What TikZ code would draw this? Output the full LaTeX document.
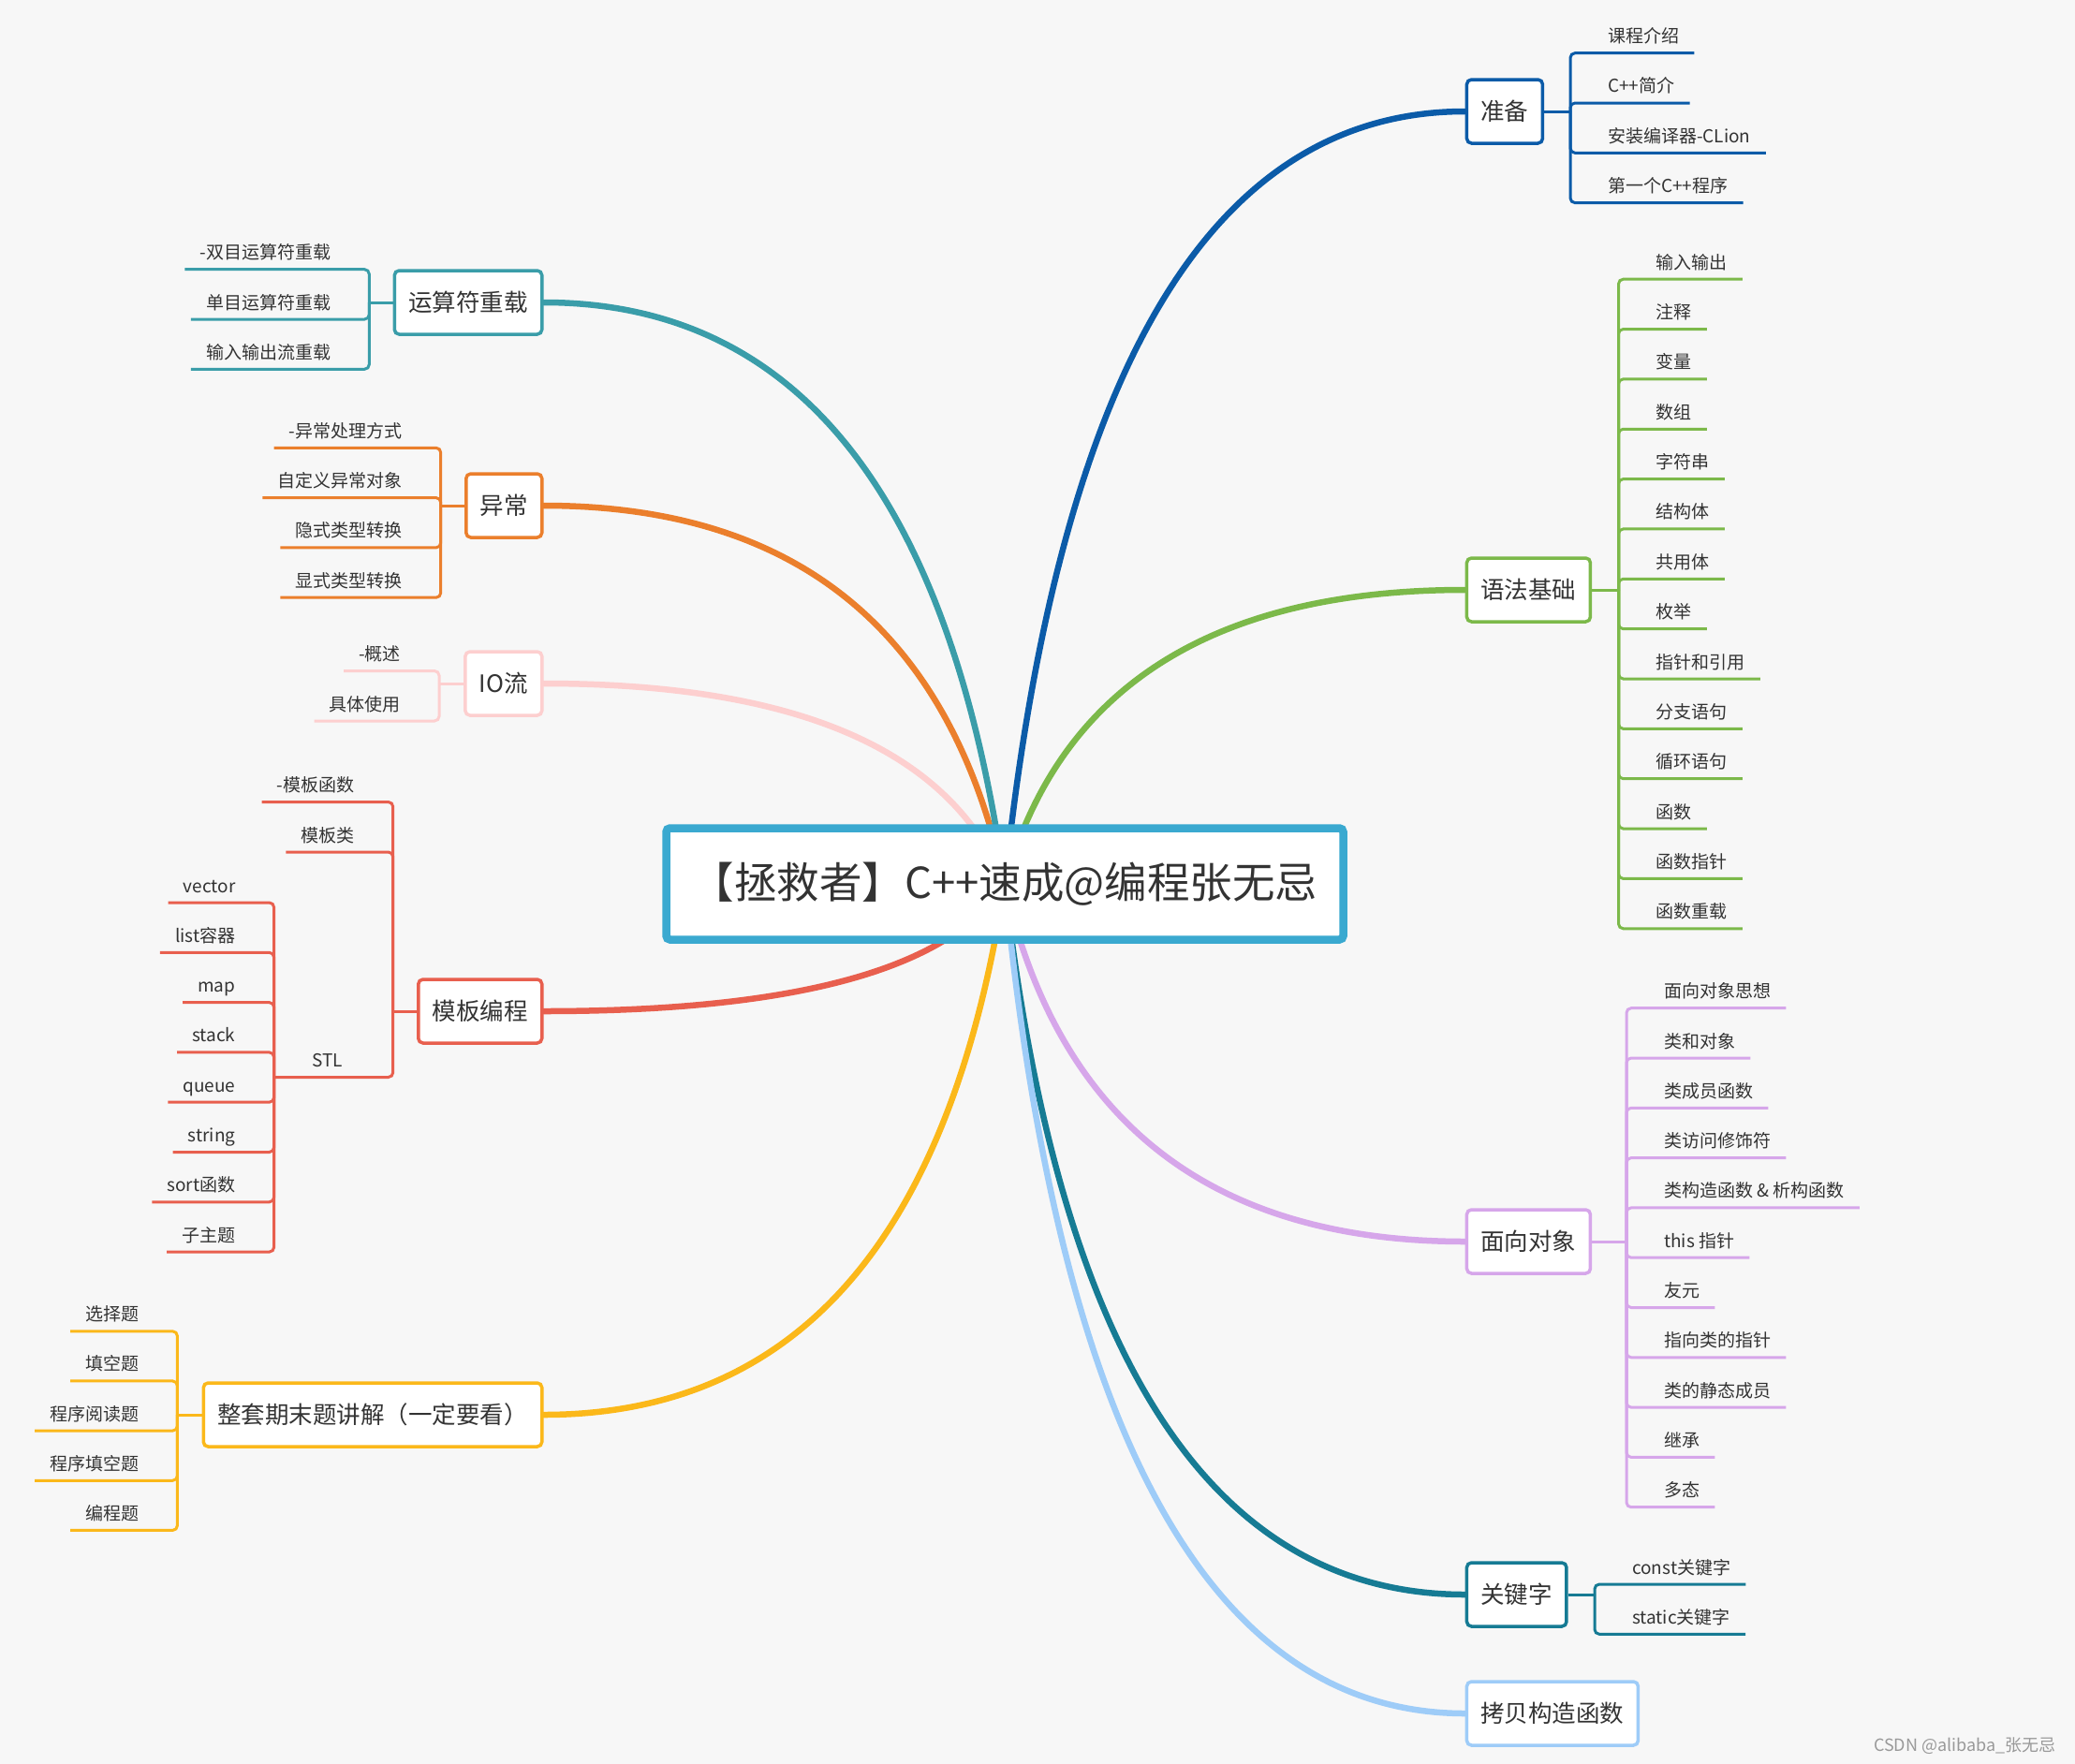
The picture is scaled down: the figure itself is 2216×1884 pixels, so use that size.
\documentclass[tikz,border=0pt]{standalone}
\usepackage{fontspec}
\setmainfont{Noto Sans CJK SC}
\usetikzlibrary{calc,backgrounds}
\definecolor{paper}{HTML}{F7F7F7}
\definecolor{txt}{HTML}{333333}
\definecolor{ctr}{HTML}{3AA9D0}
\definecolor{zbc}{HTML}{0B5BA8}
\definecolor{yfc}{HTML}{7CB94A}
\definecolor{mxc}{HTML}{D6A6EA}
\definecolor{gjc}{HTML}{167B94}
\definecolor{kbc}{HTML}{9ECCF8}
\definecolor{ysc}{HTML}{3A9DA9}
\definecolor{ycc}{HTML}{EB7F2C}
\definecolor{ioc}{HTML}{FDCFCF}
\definecolor{mbc}{HTML}{E85F4E}
\definecolor{qmc}{HTML}{FBB81A}
\newcommand{\leaffont}{\fontsize{19pt}{22pt}\selectfont}
\newcommand{\topicfont}{\fontsize{25.5pt}{30pt}\selectfont}
\newcommand{\titlefont}{\fontsize{45.5pt}{52pt}\selectfont}
\tikzset{
  topic/.style={draw=#1, fill=white, line width=3.5pt, rounded corners=5pt,
    minimum height=68pt, inner xsep=15pt, font=\topicfont, text=txt},
  leaf/.style={inner xsep=16pt, inner ysep=0pt, font=\leaffont, text=txt},
  leafR/.style={leaf, anchor=base west},
  leafL/.style={leaf, anchor=base east},
  sub/.style={draw=#1, line width=3pt, rounded corners=5pt},
  limb/.style={draw=#1, line width=6.5pt, line cap=round,
    to path={let \p1=(\tikztostart), \p2=(\tikztotarget) in
      .. controls ({\x1+0.117*(\x2-\x1)},{\y1+0.667*(\y2-\y1)})
      and ({\x2-0.55*(\x2-\x1)},\y2) .. (\tikztotarget)}},
}

\begin{document}
\begin{tikzpicture}[x=1pt, y=-1pt]
  \useasboundingbox (0,0) rectangle (2216,1884);
  % centre and first-level topics
  \node[draw=ctr, fill=white, line width=8.5pt, rounded corners=4pt,
    minimum width=723pt, minimum height=119pt, font=\titlefont, text=txt]
    (root) at (1073,944) {【拯救者】C++速成@编程张无忌};
  \node[topic=zbc, anchor=west] (zb) at (1564.7,119) {准备};
  \node[topic=yfc, anchor=west] (yf) at (1564.7,630) {语法基础};
  \node[topic=mxc, anchor=west] (mx) at (1564.7,1326) {面向对象};
  \node[topic=gjc, anchor=west] (gj) at (1564.7,1703) {关键字};
  \node[topic=kbc, anchor=west] (kb) at (1564.7,1830) {拷贝构造函数};
  \node[topic=ysc, anchor=east] (ys) at (580.5,323) {运算符重载};
  \node[topic=ycc, anchor=east] (yc) at (580.5,540) {异常};
  \node[topic=ioc, anchor=east] (io) at (580.5,730) {IO流};
  \node[topic=mbc, anchor=east] (mb) at (580.5,1080) {模板编程};
  \node[topic=qmc, anchor=east] (qm) at (580.5,1511) {整套期末题讲解（一定要看）};

  % main branches behind the boxes
  \begin{scope}[on background layer]
    \fill[paper] (0,0) rectangle (2216,1884);
    \draw[limb=zbc] (root.center) to (zb.west);
    \draw[limb=yfc] (root.center) to (yf.west);
    \draw[limb=mxc] (root.center) to (mx.west);
    \draw[limb=gjc] (root.center) to (gj.west);
    \draw[limb=kbc] (root.center) to (kb.west);
    \draw[limb=ioc] (root.center) to (io.east);
    \draw[limb=ycc] (root.center) to (yc.east);
    \draw[limb=ysc] (root.center) to (ys.east);
    \draw[limb=qmc] (root.center) to (qm.east);
    \draw[limb=mbc] (root.center) to (mb.east);
  \end{scope}

  % 准备
  \coordinate (zbj) at (1677,119);
  \draw[sub=zbc] (zb.east) -- (zbj);
  \foreach \t [count=\i from 0] in {课程介绍, C++简介, 安装编译器-CLion, 第一个C++程序} {
    \pgfmathsetmacro\yy{56.7+53.3*\i}
    \node[leafR] (zb\i) at (1701,\yy-11) {\t};
    \draw[sub=zbc] (zbj) |- (zb\i.east |- 0,\yy);
  }

  % 语法基础
  \coordinate (yfj) at (1728.5,630);
  \draw[sub=yfc] (yf.east) -- (yfj);
  \foreach \t [count=\i from 0] in {输入输出, 注释, 变量, 数组, 字符串, 结构体, 共用体,
      枚举, 指针和引用, 分支语句, 循环语句, 函数, 函数指针, 函数重载} {
    \pgfmathsetmacro\yy{298.2+53.35*\i}
    \node[leafR] (yf\i) at (1752.5,\yy-11) {\t};
    \draw[sub=yfc] (yfj) |- (yf\i.east |- 0,\yy);
  }

  % 面向对象
  \coordinate (mxj) at (1737,1326);
  \draw[sub=mxc] (mx.east) -- (mxj);
  \foreach \t [count=\i from 0] in {面向对象思想, 类和对象, 类成员函数, 类访问修饰符,
      类构造函数 \& 析构函数, this 指针, 友元, 指向类的指针, 类的静态成员, 继承, 多态} {
    \pgfmathsetmacro\yy{1076.7+53.3*\i}
    \node[leafR] (mx\i) at (1761,\yy-11) {\t};
    \draw[sub=mxc] (mxj) |- (mx\i.east |- 0,\yy);
  }

  % 关键字
  \coordinate (gjj) at (1703,1703);
  \draw[sub=gjc] (gj.east) -- (gjj);
  \foreach \t [count=\i from 0] in {const关键字, static关键字} {
    \pgfmathsetmacro\yy{1692+53.3*\i}
    \node[leafR] (gj\i) at (1727,\yy-11) {\t};
    \draw[sub=gjc] (gjj) |- (gj\i.east |- 0,\yy);
  }

  % 运算符重载
  \coordinate (ysj) at (394.3,323);
  \draw[sub=ysc] (ys.west) -- (ysj);
  \foreach \t [count=\i from 0] in {-双目运算符重载, 单目运算符重载, 输入输出流重载} {
    \pgfmathsetmacro\yy{287.7+53.3*\i}
    \node[leafL] (ys\i) at (369.3,\yy-11) {\t};
    \draw[sub=ysc] (ysj) |- (ys\i.west |- 0,\yy);
  }

  % 异常
  \coordinate (ycj) at (470.7,540);
  \draw[sub=ycc] (yc.west) -- (ycj);
  \foreach \t [count=\i from 0] in {-异常处理方式, 自定义异常对象, 隐式类型转换, 显式类型转换} {
    \pgfmathsetmacro\yy{478.3+53.3*\i}
    \node[leafL] (yc\i) at (445.7,\yy-11) {\t};
    \draw[sub=ycc] (ycj) |- (yc\i.west |- 0,\yy);
  }

  % IO流
  \coordinate (ioj) at (469,730);
  \draw[sub=ioc] (io.west) -- (ioj);
  \foreach \t [count=\i from 0] in {-概述, 具体使用} {
    \pgfmathsetmacro\yy{716.5+53.5*\i}
    \node[leafL] (io\i) at (444,\yy-11) {\t};
    \draw[sub=ioc] (ioj) |- (io\i.west |- 0,\yy);
  }

  % 模板编程
  \coordinate (mbj) at (419.7,1080);
  \draw[sub=mbc] (mb.west) -- (mbj);
  \foreach \t [count=\i from 0] in {-模板函数, 模板类} {
    \pgfmathsetmacro\yy{856.5+53.5*\i}
    \node[leafL] (mb\i) at (394.7,\yy-11) {\t};
    \draw[sub=mbc] (mbj) |- (mb\i.west |- 0,\yy);
  }
  \coordinate (stlj) at (292.6,1150.5);
  \node[leafL] (stl) at (382,1139.5) {STL};
  \draw[sub=mbc] (mbj) |- (stlj);
  \foreach \t [count=\i from 0] in {vector, list容器, map, stack, queue, string, sort函数, 子主题} {
    \pgfmathsetmacro\yy{964+53.3*\i}
    \node[leafL] (stl\i) at (267.6,\yy-11) {\t};
    \draw[sub=mbc] (stlj) |- (stl\i.west |- 0,\yy);
  }

  % 整套期末题讲解
  \coordinate (qmj) at (189.4,1511);
  \draw[sub=qmc] (qm.west) -- (qmj);
  \foreach \t [count=\i from 0] in {选择题, 填空题, 程序阅读题, 程序填空题, 编程题} {
    \pgfmathsetmacro\yy{1421.8+53.15*\i}
    \node[leafL] (qm\i) at (164.4,\yy-11) {\t};
    \draw[sub=qmc] (qmj) |- (qm\i.west |- 0,\yy);
  }

  \node[anchor=east, text=black!40, font=\fontsize{18pt}{20pt}\selectfont]
    (wm) at (2199,1865) {CSDN @alibaba\_张无忌};
\end{tikzpicture}
\end{document}
